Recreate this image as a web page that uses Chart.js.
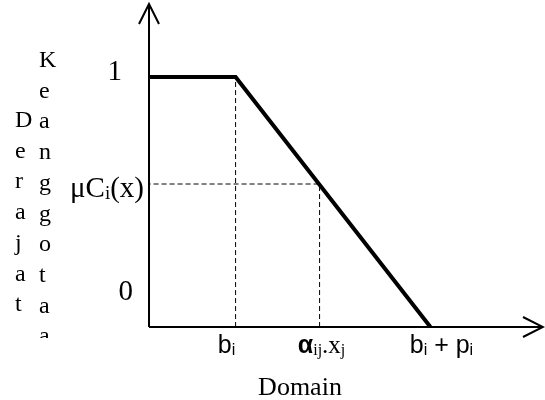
<!DOCTYPE html>
<html>
<head>
<meta charset="utf-8">
<script src="https://cdn.jsdelivr.net/npm/chart.js@4.4.1/dist/chart.umd.min.js"></script>
<style>
  html, body { margin: 0; padding: 0; background: #fff; }
  canvas { display: block; }
</style>
</head>
<body>
<canvas id="membershipChart" width="545" height="400"></canvas>
<script>
'use strict';

// membership function: full degree up to b_i, falling to zero at b_i + p_i
const domainPoints = [0, 1, 3.25];
const membershipValues = [1, 1, 0];

// input a_ij.x_j and the degree it gets on the falling side
const inputPoint = 1.97;
const inputMembership = 0.572;

const xTickValues = [domainPoints[1], inputPoint, domainPoints[2]];
const xTickLabels = ['b_i', 'α_ij.x_j', 'b_i + p_i'];
const yTickValues = [1, inputMembership, 0];
const yTickLabels = ['1', 'μC_i(x)', '0'];

const xTitle = 'Domain';
const yTitleColumns = ['Derajat', 'Keanggotaan'];

const SERIF = '"Liberation Serif", "Times New Roman", serif';
const SANS = '"Liberation Sans", Arial, sans-serif';

// label placement relative to the tick position
const xLabelNudge = [-9, 2, 11];
const yLabelNudge = [{ dx: -27, dy: 3 }, { dx: -5, dy: 13 }, { dx: -16, dy: -27 }];

function splitSubscripts(label) {
    const parts = [];
    const re = /_([A-Za-z]+)/g;
    let last = 0;
    let m;
    while ((m = re.exec(label))) {
        if (m.index > last) parts.push({ text: label.slice(last, m.index), sub: false });
        parts.push({ text: m[1], sub: true });
        last = re.lastIndex;
    }
    if (last < label.length) parts.push({ text: label.slice(last), sub: false });
    return parts;
}

function drawRich(ctx, parts, x, y, align, fontFor) {
    const styled = parts.map((p, i) => Object.assign({}, p, fontFor(p, i)));
    let width = 0;
    styled.forEach(p => {
        ctx.font = p.font;
        p.width = ctx.measureText(p.text).width;
        width += p.width;
    });
    let cx = align === 'right' ? x - width : align === 'center' ? x - width / 2 : x;
    ctx.textAlign = 'left';
    ctx.textBaseline = 'alphabetic';
    styled.forEach(p => {
        ctx.font = p.font;
        ctx.fillText(p.text, cx, y + (p.sub ? 2 : 0));
        cx += p.width;
    });
}

function arrowHead(ctx, tipX, tipY, dirX, dirY) {
    const len = 20, half = 10;
    const bx = tipX - dirX * len, by = tipY - dirY * len;
    ctx.beginPath();
    ctx.moveTo(bx - dirY * half, by + dirX * half);
    ctx.lineTo(tipX, tipY);
    ctx.lineTo(bx + dirY * half, by - dirX * half);
    ctx.stroke();
}

const axesPlugin = {
    id: 'arrowAxes',
    beforeDatasetsDraw(chart) {
        const { ctx, chartArea } = chart;
        const x = chart.scales.x, y = chart.scales.y;
        const ox = x.getPixelForValue(0), oy = y.getPixelForValue(0);
        ctx.save();
        ctx.strokeStyle = '#000';
        ctx.lineWidth = 2;
        ctx.lineCap = 'butt';
        ctx.beginPath();
        ctx.moveTo(ox, oy);
        ctx.lineTo(ox, chartArea.top);
        ctx.moveTo(ox, oy);
        ctx.lineTo(chartArea.right, oy);
        ctx.stroke();
        arrowHead(ctx, ox, chartArea.top, 0, -1);
        arrowHead(ctx, chartArea.right, oy, 1, 0);
        ctx.restore();
    },
    afterDraw(chart) {
        const { ctx, chartArea } = chart;
        const x = chart.scales.x, y = chart.scales.y;
        const oy = y.getPixelForValue(0);
        const ox = x.getPixelForValue(0);
        ctx.save();
        ctx.fillStyle = '#000';

        xTickValues.forEach((v, i) => {
            const parts = splitSubscripts(xTickLabels[i]);
            const greek = parts[0].text === 'α';
            drawRich(ctx, parts, x.getPixelForValue(v) + xLabelNudge[i], oy + 26, 'center', (p, k) => {
                if (greek && k === 0) return { font: 'bold 25px ' + SANS };
                const fam = greek ? SERIF : SANS;
                return { font: (p.sub ? '16px ' : '25px ') + fam };
            });
        });

        yTickValues.forEach((v, i) => {
            const n = yLabelNudge[i];
            drawRich(ctx, splitSubscripts(yTickLabels[i]), ox + n.dx, y.getPixelForValue(v) + n.dy, 'right',
                p => ({ font: (p.sub ? '19px ' : '29px ') + SERIF }));
        });

        ctx.font = '26px ' + SERIF;
        ctx.textAlign = 'center';
        ctx.textBaseline = 'alphabetic';
        ctx.fillText(xTitle, (chartArea.left + chartArea.right) / 2 - 46, oy + 68);

        // stacked letters of the y title, cut off at the bottom of their box
        ctx.beginPath();
        ctx.rect(0, 0, 80, 338);
        ctx.clip();
        ctx.font = '24px ' + SERIF;
        ctx.textAlign = 'left';
        const step = 30.7;
        const columns = [{ left: 15, first: 127 }, { left: 39, first: 67 }];
        yTitleColumns.forEach((word, c) => {
            [...word].forEach((ch, k) => {
                ctx.fillText(ch, columns[c].left, columns[c].first + k * step);
            });
        });
        ctx.restore();
    }
};

const guideStyle = {
    borderColor: '#000',
    borderWidth: 1,
    borderDash: [5, 3],
    pointRadius: 0,
    fill: false,
    clip: false
};

new Chart(document.getElementById('membershipChart'), {
    type: 'scatter',
    data: {
        datasets: [
            Object.assign({
                data: [{ x: domainPoints[1], y: 0 }, { x: domainPoints[1], y: membershipValues[1] }],
                showLine: true
            }, guideStyle),
            Object.assign({
                data: [{ x: inputPoint, y: 0 }, { x: inputPoint, y: inputMembership }, { x: 0, y: inputMembership }],
                showLine: true
            }, guideStyle),
            {
                data: domainPoints.map((d, i) => ({ x: d, y: membershipValues[i] })),
                showLine: true,
                borderColor: '#000',
                borderWidth: 4,
                borderJoinStyle: 'miter',
                pointRadius: 0,
                fill: false,
                clip: false
            }
        ]
    },
    options: {
        responsive: false,
        animation: false,
        layout: { padding: { left: 149, right: 2, top: 4, bottom: 73 } },
        scales: {
            x: { type: 'linear', min: 0, max: 4.55, display: false },
            y: { type: 'linear', min: 0, max: 1.292, display: false }
        },
        plugins: {
            legend: { display: false },
            tooltip: { enabled: false }
        }
    },
    plugins: [axesPlugin]
});
</script>
</body>
</html>
